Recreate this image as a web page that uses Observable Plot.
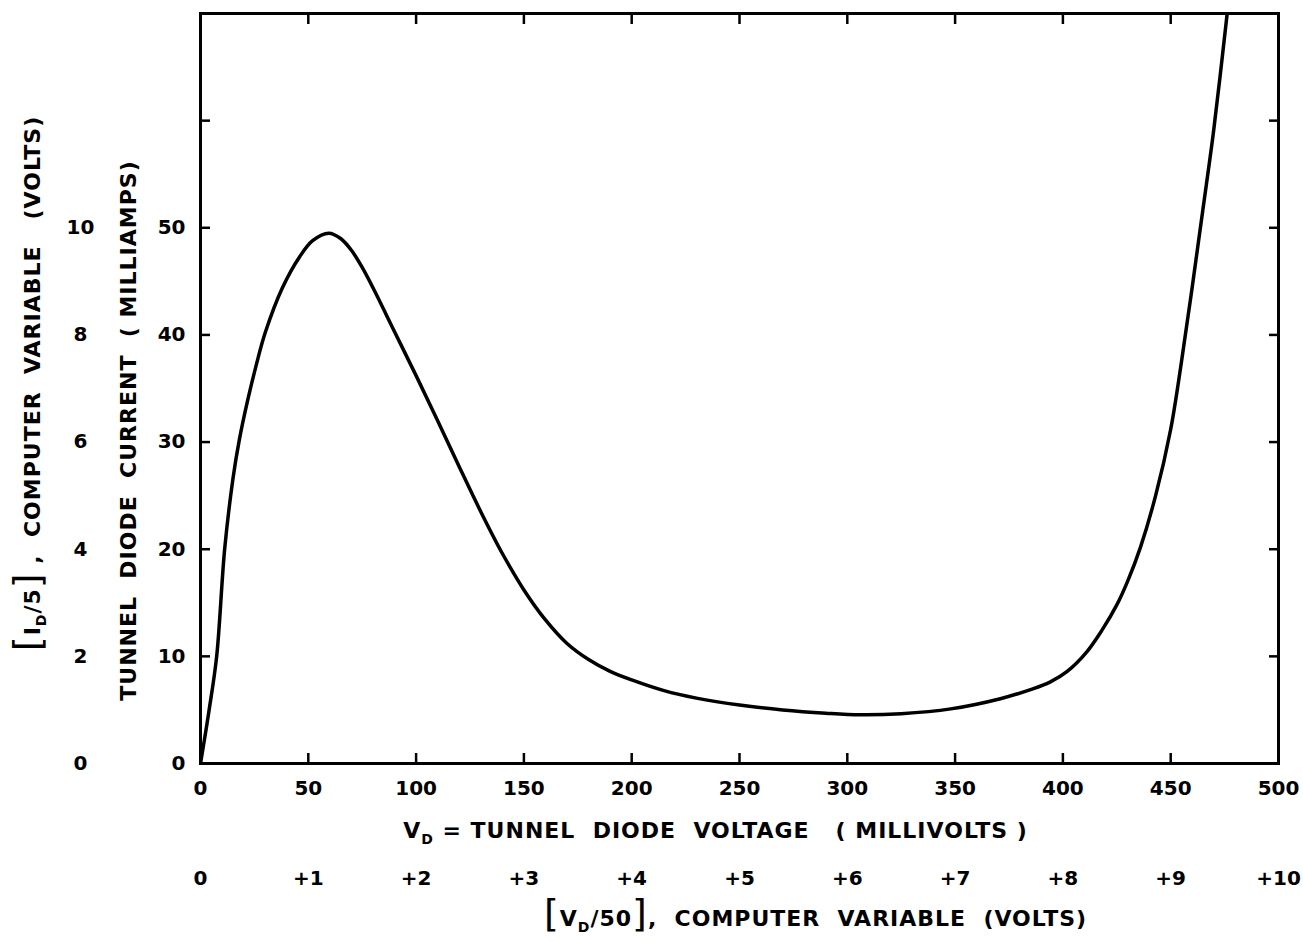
<!DOCTYPE html>
<html>
<head>
<meta charset="utf-8">
<script src="https://cdn.jsdelivr.net/npm/d3@7"></script>
<script src="https://cdn.jsdelivr.net/npm/@observablehq/plot@0.6"></script>
<style>
  html, body { margin: 0; padding: 0; background: #fff; }
  #chart svg { display: block; }
</style>
</head>
<body>
<div id="chart"></div>
<script>
// Tunnel diode I–V characteristic
const voltageMV = [0, 4, 7.5, 11.2, 15, 18, 22, 26, 30, 38, 46, 52, 59.5, 65, 70, 75, 80, 90, 100, 110, 120, 130, 140, 150, 160, 170, 180, 190, 200, 215, 230, 250, 270, 290, 306, 325, 348, 371, 385, 394, 402, 411, 418, 425, 430, 436, 443, 450, 455, 460, 465, 470, 476.2, 479];
const currentMA = [0, 5, 10, 20, 26.5, 30.2, 34, 37.3, 40.2, 44.4, 47.3, 48.8, 49.5, 49.0, 47.9, 46.3, 44.4, 40.3, 36.2, 32.0, 27.7, 23.5, 19.6, 16.2, 13.4, 11.2, 9.7, 8.6, 7.8, 6.8, 6.1, 5.45, 5.0, 4.7, 4.55, 4.65, 5.1, 6.05, 6.9, 7.6, 8.6, 10.4, 12.4, 14.8, 17.0, 20.2, 25.0, 31.2, 37.5, 44.5, 51.8, 59.2, 70, 75];

// Axis ticks and labels
const xTickValues = [0, 50, 100, 150, 200, 250, 300, 350, 400, 450, 500];
const xTickLabels = ["0", "50", "100", "150", "200", "250", "300", "350", "400", "450", "500"];
const xComputerLabels = ["0", "+1", "+2", "+3", "+4", "+5", "+6", "+7", "+8", "+9", "+10"];
const xInnerTicks = [50, 100, 150, 200, 250, 300, 350, 400, 450];
const yTickValues = [0, 10, 20, 30, 40, 50];
const yTickLabels = ["0", "10", "20", "30", "40", "50"];
const yComputerLabels = ["0", "2", "4", "6", "8", "10"];
const yInnerTicks = [10, 20, 30, 40, 50, 60];

const xTitle = "V_D = TUNNEL  DIODE  VOLTAGE   ( MILLIVOLTS )";
const xTitle2 = "[V_D/50],  COMPUTER  VARIABLE  (VOLTS)";
const yTitle = "TUNNEL  DIODE  CURRENT  ( MILLIAMPS)";
const yTitle2 = "[I_D/5] ,  COMPUTER  VARIABLE   (VOLTS)";

const curve = voltageMV.map((v, i) => ({v, i: currentMA[i]}));
const FONT = "'DejaVu Sans', sans-serif";

const chart = Plot.plot({
  width: 1303,
  height: 941,
  marginLeft: 200,
  marginRight: 25,
  marginTop: 13,
  marginBottom: 178,
  style: {fontFamily: FONT, fontSize: "20px", fontWeight: "bold", color: "#000", background: "#fff", overflow: "visible"},
  x: {domain: [0, 500]},
  y: {domain: [0, 70]},
  marks: [
    Plot.frame({stroke: "#000", strokeWidth: 3}),
    // inward tick marks on all four sides
    Plot.axisX(xInnerTicks, {anchor: "bottom", tickSize: -10, strokeWidth: 2.5, tickFormat: () => "", label: null}),
    Plot.axisX(xInnerTicks, {anchor: "top", tickSize: -10, strokeWidth: 2.5, tickFormat: () => "", label: null}),
    Plot.axisY(yInnerTicks, {anchor: "left", tickSize: -10, strokeWidth: 2.5, tickFormat: () => "", label: null}),
    Plot.axisY(yInnerTicks, {anchor: "right", tickSize: -10, strokeWidth: 2.5, tickFormat: () => "", label: null}),
    // tick labels
    Plot.axisX(xTickValues, {anchor: "bottom", tickSize: 0, tickPadding: 17, fontSize: 20, tickFormat: (d, i) => xTickLabels[i], label: null}),
    Plot.axisY(yTickValues, {anchor: "left", tickSize: 0, tickPadding: 15, fontSize: 20, tickFormat: (d, i) => yTickLabels[i], label: null}),
    // computer-variable scales
    Plot.text(xTickValues, {x: d => d, frameAnchor: "bottom", dy: 115, lineAnchor: "middle", text: (d, i) => xComputerLabels[i], fontSize: 20}),
    Plot.text(yTickValues, {y: d => d, frameAnchor: "left", dx: -120, textAnchor: "middle", text: (d, i) => yComputerLabels[i], fontSize: 20}),
    // titles
    Plot.text([xTitle], {frameAnchor: "bottom", dx: -24, dy: 67, lineAnchor: "middle", textAnchor: "middle", text: d => d, fontSize: 22}),
    Plot.text([xTitle2], {frameAnchor: "bottom", dx: 76, dy: 155, lineAnchor: "middle", textAnchor: "middle", text: d => d, fontSize: 22}),
    Plot.text([yTitle], {frameAnchor: "left", rotate: -90, dx: -72, dy: 42, lineAnchor: "middle", textAnchor: "middle", text: d => d, fontSize: 22}),
    Plot.text([yTitle2], {frameAnchor: "left", rotate: -90, dx: -168, dy: -5, lineAnchor: "middle", textAnchor: "middle", text: d => d, fontSize: 22}),
    // the curve
    Plot.line(curve, {x: "v", y: "i", curve: "catmull-rom", stroke: "#000", strokeWidth: 3.5, clip: true})
  ]
});

// rich text: subscripts and tall brackets
d3.select(chart).selectAll("text").each(function() {
  const s = this.textContent;
  if (!/[\[\]]|_D/.test(s)) return;
  const el = d3.select(this);
  this.textContent = "";
  const parts = s.split(/(\[|\]|_D)/).filter(p => p !== "");
  let pendingDy = 0;
  for (const p of parts) {
    const t = el.append("tspan");
    if (p === "[" || p === "]") {
      t.attr("font-size", 38).attr("font-weight", "normal").text(p);
    } else if (p === "_D") {
      t.attr("font-size", 14).attr("dy", 6 + pendingDy).text("D");
      pendingDy = -6;
      continue;
    } else {
      t.text(p);
    }
    if (pendingDy) { t.attr("dy", pendingDy); pendingDy = 0; }
  }
});
d3.select(chart).selectAll("text").style("white-space", "pre");
// lettering spacing for the titles
d3.select(chart).selectAll("text").filter(function() { return this.textContent.length > 12; }).style("letter-spacing", "1px");

document.getElementById("chart").appendChild(chart);
</script>
</body>
</html>
